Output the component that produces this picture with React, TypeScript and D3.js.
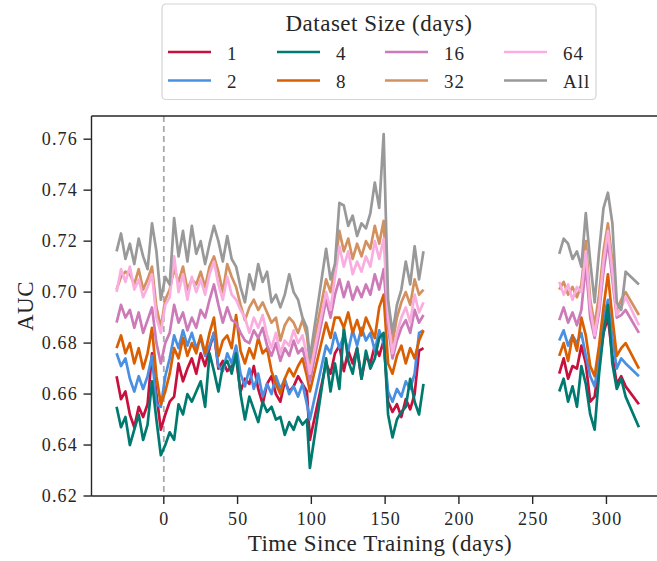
import React from "react";
import * as d3 from "d3";

// days since training; 220 is a gap marker (no data between the two periods)
const days = [
  -32, -29, -26, -23, -20, -17, -14, -11, -8, -5,
  -2, 1, 4, 7, 10, 13, 16, 19, 22, 25,
  28, 31, 34, 37, 40, 43, 46, 49, 52, 55,
  58, 61, 64, 67, 70, 73, 76, 79, 82, 85,
  88, 91, 94, 97, 99,
  110, 113, 116, 119, 122, 125, 128, 131, 134, 137,
  140, 143, 146, 149, 152, 155, 158, 161, 164, 167, 170, 173, 176,
  220,
  268, 271, 274, 277, 280, 283, 286, 289, 292, 295, 298, 301, 304, 307, 310, 313, 322,
];

const auc1 = [
  0.667, 0.658, 0.661, 0.652, 0.647, 0.655, 0.651, 0.656, 0.676, 0.66,
  0.646, 0.652, 0.657, 0.659, 0.672, 0.665, 0.67, 0.674, 0.668, 0.676,
  0.671, 0.678, 0.684, 0.67, 0.673, 0.669, 0.671, 0.674, 0.661, 0.666,
  0.664, 0.671, 0.662, 0.656, 0.664, 0.667, 0.66, 0.657, 0.665, 0.661,
  0.663, 0.667, 0.664, 0.661, 0.642,
  0.672, 0.668, 0.676, 0.679, 0.669, 0.677, 0.672, 0.678, 0.666, 0.675,
  0.672, 0.679, 0.675, 0.681, 0.657, 0.653, 0.656, 0.651, 0.658, 0.654, 0.66, 0.677, 0.678,
  null,
  0.668, 0.674, 0.666, 0.671, 0.67, 0.679, 0.672, 0.657, 0.659, 0.672, 0.684, 0.69, 0.675, 0.664, 0.667, 0.663, 0.656,
];

const auc2 = [
  0.676, 0.671, 0.674, 0.666, 0.661, 0.667, 0.662, 0.667, 0.675, 0.656,
  0.655, 0.667, 0.674, 0.683, 0.678, 0.685, 0.679, 0.684, 0.678, 0.682,
  0.675, 0.679, 0.684, 0.671, 0.669, 0.676, 0.672, 0.679, 0.668, 0.663,
  0.67, 0.662, 0.668, 0.659, 0.664, 0.66, 0.667, 0.662, 0.666, 0.66,
  0.663, 0.659, 0.664, 0.656, 0.65,
  0.679, 0.676, 0.684, 0.678, 0.683, 0.677, 0.685, 0.679, 0.686, 0.681,
  0.684, 0.677, 0.685, 0.68, 0.661, 0.657, 0.662, 0.659, 0.665, 0.662, 0.668, 0.684, 0.685,
  null,
  0.681, 0.685, 0.679, 0.683, 0.68, 0.684, 0.675, 0.667, 0.663, 0.674, 0.69, 0.697, 0.682, 0.67, 0.674, 0.672, 0.667,
];

const auc4 = [
  0.655, 0.647, 0.651, 0.64, 0.646, 0.652, 0.642, 0.648, 0.665, 0.65,
  0.636, 0.64, 0.645, 0.642, 0.656, 0.652, 0.66, 0.657, 0.661, 0.665,
  0.655, 0.676, 0.669, 0.661, 0.671, 0.673, 0.668, 0.676, 0.66, 0.65,
  0.659, 0.654, 0.649, 0.657, 0.653, 0.655, 0.65, 0.651, 0.644, 0.649,
  0.646, 0.651, 0.648, 0.65, 0.631,
  0.674, 0.661, 0.672, 0.662, 0.686, 0.673, 0.668, 0.678, 0.666, 0.677,
  0.67, 0.674, 0.682, 0.684, 0.652, 0.643, 0.65, 0.653, 0.655, 0.666, 0.657, 0.652, 0.664,
  null,
  0.661, 0.666, 0.657, 0.663, 0.655, 0.671, 0.664, 0.652, 0.646, 0.668, 0.684, 0.695, 0.672, 0.662, 0.666, 0.659, 0.647,
];

const auc8 = [
  0.678, 0.683, 0.676, 0.68, 0.672, 0.678, 0.67, 0.676, 0.686, 0.667,
  0.656, 0.661, 0.668, 0.678, 0.674, 0.682, 0.675, 0.68, 0.676, 0.683,
  0.676, 0.684, 0.69, 0.675, 0.681, 0.683, 0.678, 0.691, 0.677, 0.672,
  0.678, 0.674, 0.682, 0.676, 0.678, 0.669, 0.664, 0.66, 0.666, 0.67,
  0.667, 0.671, 0.674, 0.667, 0.661,
  0.688, 0.682, 0.69, 0.69, 0.686, 0.692, 0.684, 0.689, 0.683, 0.69,
  0.686, 0.682, 0.694, 0.699, 0.672, 0.668, 0.675, 0.679, 0.672, 0.678, 0.674, 0.681, 0.685,
  null,
  0.675, 0.68, 0.673, 0.683, 0.677, 0.69, 0.683, 0.671, 0.667, 0.679, 0.694, 0.707, 0.69, 0.675, 0.678, 0.68, 0.67,
];

const auc16 = [
  0.688, 0.695, 0.69, 0.693, 0.686, 0.692, 0.684, 0.689, 0.694, 0.68,
  0.672, 0.68, 0.684, 0.695, 0.688, 0.692, 0.685, 0.69, 0.686, 0.693,
  0.69, 0.697, 0.703, 0.695, 0.688, 0.694, 0.689, 0.688, 0.684, 0.681,
  0.68, 0.685, 0.682, 0.686, 0.679, 0.675, 0.68, 0.673, 0.678, 0.675,
  0.681, 0.676, 0.678, 0.671, 0.665,
  0.697, 0.69, 0.699, 0.705, 0.698, 0.704, 0.697, 0.702, 0.698, 0.703,
  0.699, 0.707, 0.701, 0.709, 0.686, 0.674, 0.681, 0.686, 0.689, 0.684, 0.693, 0.688, 0.691,
  null,
  0.689, 0.694, 0.688, 0.692, 0.687, 0.693, 0.711, 0.69, 0.682, 0.692, 0.708, 0.72, 0.705, 0.69, 0.691, 0.693, 0.684,
];

const auc32 = [
  0.701, 0.706, 0.708, 0.707, 0.703, 0.709, 0.701, 0.705, 0.71, 0.694,
  0.686, 0.697, 0.701, 0.709, 0.704, 0.71, 0.701, 0.705, 0.703, 0.708,
  0.702, 0.71, 0.714, 0.708, 0.7, 0.711, 0.706, 0.702, 0.695, 0.689,
  0.694, 0.697, 0.693, 0.696, 0.692, 0.688, 0.69, 0.681, 0.687, 0.69,
  0.688, 0.684, 0.689, 0.683, 0.672,
  0.705, 0.7, 0.71, 0.724, 0.716, 0.721, 0.713, 0.719, 0.714, 0.72,
  0.717, 0.726, 0.719, 0.728, 0.694, 0.68, 0.69, 0.696, 0.7, 0.695, 0.705, 0.699, 0.701,
  null,
  0.701, 0.704, 0.699, 0.702, 0.698, 0.703, 0.72, 0.697, 0.687, 0.699, 0.716, 0.727, 0.712, 0.693, 0.697, 0.7, 0.691,
];

const auc64 = [
  0.7, 0.709, 0.704, 0.71, 0.701, 0.705, 0.698, 0.702, 0.707, 0.69,
  0.684, 0.695, 0.698, 0.714, 0.7, 0.707, 0.697, 0.706, 0.7, 0.705,
  0.699, 0.707, 0.712, 0.703, 0.697, 0.706, 0.699, 0.697, 0.693, 0.69,
  0.684, 0.69, 0.686, 0.691, 0.683, 0.678, 0.684, 0.676, 0.681, 0.679,
  0.685, 0.68, 0.683, 0.675, 0.668,
  0.7, 0.693, 0.706, 0.718, 0.71, 0.716, 0.707, 0.712, 0.708, 0.714,
  0.71, 0.72, 0.713, 0.721, 0.69, 0.676, 0.684, 0.69, 0.694, 0.688, 0.699, 0.692, 0.696,
  null,
  0.704, 0.699, 0.703, 0.697, 0.702, 0.7, 0.716, 0.694, 0.683, 0.694, 0.712, 0.724, 0.708, 0.691, 0.694, 0.698, 0.687,
];

const aucAll = [
  0.716, 0.723, 0.713, 0.719, 0.711, 0.721, 0.714, 0.709, 0.727, 0.716,
  0.697, 0.706, 0.703, 0.729, 0.714, 0.724, 0.712, 0.726, 0.715, 0.72,
  0.711, 0.719, 0.726, 0.72, 0.712, 0.722, 0.713, 0.71, 0.702, 0.696,
  0.707, 0.701, 0.711, 0.704, 0.708, 0.696, 0.699, 0.694, 0.699, 0.707,
  0.7, 0.697, 0.69, 0.686, 0.674,
  0.717, 0.705, 0.711, 0.735, 0.734, 0.726, 0.73, 0.722, 0.727, 0.725,
  0.731, 0.743, 0.733, 0.762, 0.697, 0.684, 0.695, 0.701, 0.712, 0.703, 0.718, 0.705, 0.716,
  null,
  0.715, 0.721, 0.719, 0.713, 0.716, 0.71, 0.731, 0.712, 0.696, 0.716, 0.733, 0.739, 0.727, 0.696, 0.693, 0.708, 0.703,
];

const seriesNames = ["1", "2", "4", "8", "16", "32", "64", "All"];
const seriesValues = [auc1, auc2, auc4, auc8, auc16, auc32, auc64, aucAll];
const seriesColors = ["#c8103e", "#4a90e2", "#007a70", "#d95f02", "#cc7ab8", "#d3915f", "#f9aedf", "#999999"];

const xTicks = [0, 50, 100, 150, 200, 250, 300];
const yTicks = [0.62, 0.64, 0.66, 0.68, 0.7, 0.72, 0.74, 0.76];

const W = 657;
const H = 561;
const plot = { left: 91.5, right: 664, top: 116, bottom: 496 };
const font = "'Liberation Serif', 'Times New Roman', serif";
const ink = "#262626";

export default function App() {
  const x = d3.scaleLinear().domain([-49, 339]).range([plot.left, plot.right]);
  const y = d3.scaleLinear().domain([0.62, 0.7691]).range([plot.bottom, plot.top]);

  const line = d3
    .line<number | null>()
    .defined((d) => d != null)
    .x((_, i) => x(days[i]))
    .y((d) => y(d as number));

  // legend: 4 columns, 2 rows, filled column by column
  const legCols = [168, 277, 385, 504];
  const legRows = [52, 80.5];

  return (
    <svg width={W} height={H} style={{ position: "absolute", left: 0, top: 0, background: "#fff" }} fontFamily={font}>
      {/* zero line */}
      <line x1={x(0)} x2={x(0)} y1={plot.top} y2={plot.bottom} stroke="#aaaaaa" strokeWidth={1.8} strokeDasharray="6,4" />

      {seriesValues.map((vals, i) => (
        <path key={seriesNames[i]} d={line(vals) || ""} fill="none" stroke={seriesColors[i]} strokeWidth={2.7} strokeLinejoin="round" />
      ))}

      {/* spines */}
      <line x1={plot.left} x2={plot.left} y1={plot.top} y2={plot.bottom} stroke={ink} strokeWidth={1.4} />
      <line x1={plot.left} x2={plot.right} y1={plot.bottom} y2={plot.bottom} stroke={ink} strokeWidth={1.4} />
      <line x1={plot.left} x2={plot.right} y1={plot.top} y2={plot.top} stroke={ink} strokeWidth={1.4} />
      <line x1={plot.right} x2={plot.right} y1={plot.top} y2={plot.bottom} stroke={ink} strokeWidth={1.4} />

      {yTicks.map((t) => (
        <g key={t} transform={`translate(0,${y(t)})`}>
          <line x1={plot.left - 8} x2={plot.left} stroke={ink} strokeWidth={1.4} />
          <text x={78} dy="0.34em" textAnchor="end" fontSize={18} letterSpacing={1.2} fill={ink}>
            {t.toFixed(2)}
          </text>
        </g>
      ))}

      {xTicks.map((t) => (
        <g key={t} transform={`translate(${x(t)},0)`}>
          <line y1={plot.bottom} y2={plot.bottom + 8} stroke={ink} strokeWidth={1.4} />
          <text y={525} x={0.6} textAnchor="middle" fontSize={18} letterSpacing={1.2} fill={ink}>
            {t}
          </text>
        </g>
      ))}

      <text x={380} y={551} textAnchor="middle" fontSize={23} letterSpacing={0.5} fill={ink}>
        Time Since Training (days)
      </text>
      <text transform="translate(33,306) rotate(-90)" textAnchor="middle" fontSize={23} letterSpacing={0.5} fill={ink}>
        AUC
      </text>

      {/* legend */}
      <rect x={162} y={4} width={434} height={95.5} rx={4} fill="#fff" fillOpacity={0.85} stroke="#d4d4d4" strokeWidth={1.2} />
      <text x={379} y={30.5} textAnchor="middle" fontSize={23} letterSpacing={0.5} fill={ink}>
        Dataset Size (days)
      </text>
      {seriesNames.map((name, i) => {
        const cx = legCols[Math.floor(i / 2)];
        const cy = legRows[i % 2];
        return (
          <g key={name}>
            <line x1={cx} x2={cx + 43} y1={cy} y2={cy} stroke={seriesColors[i]} strokeWidth={2.7} />
            <text x={cx + 59} y={cy + 7.5} fontSize={19} letterSpacing={1} fill={ink}>
              {name}
            </text>
          </g>
        );
      })}
    </svg>
  );
}
